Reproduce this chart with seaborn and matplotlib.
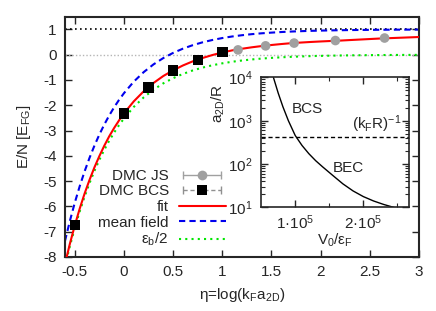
import numpy as np
import pandas as pd
import seaborn as sns
import matplotlib.pyplot as plt
from matplotlib.lines import Line2D
from matplotlib.legend_handler import HandlerLine2D
from matplotlib.ticker import LogLocator, NullFormatter

# --- style ---
sns.set_style("ticks")
plt.rcParams['font.family'] = ['Liberation Sans', 'DejaVu Sans']
plt.rcParams['mathtext.fontset'] = 'custom'
plt.rcParams['mathtext.rm'] = 'Liberation Sans'
plt.rcParams['mathtext.it'] = 'Liberation Sans:italic'
plt.rcParams['axes.unicode_minus'] = False
FS = 11
plt.rcParams['font.size'] = FS

# --- data ---
# curves: eta = log(kF a2D)
eta = [-0.6, -0.55, -0.5, -0.45, -0.4, -0.35, -0.3, -0.25, -0.2, -0.15, -0.1, -0.05,
       0.0, 0.1, 0.2, 0.3, 0.4, 0.5, 0.6, 0.7, 0.8, 0.9, 1.0, 1.1, 1.2, 1.3, 1.4, 1.5,
       1.6, 1.7, 1.8, 1.9, 2.0, 2.1, 2.2, 2.3, 2.4, 2.5, 2.6, 2.7, 2.8, 2.9, 3.0]
fit_E = [-8.28, -7.48, -6.755, -6.09, -5.49, -4.95, -4.455, -4.01, -3.60, -3.23, -2.90, -2.60,
         -2.32, -1.845, -1.45, -1.12, -0.843, -0.618, -0.425, -0.262, -0.129, -0.012, 0.089,
         0.171, 0.236, 0.293, 0.342, 0.384, 0.422, 0.456, 0.481, 0.504, 0.524, 0.542, 0.559,
         0.58, 0.60, 0.62, 0.64, 0.655, 0.67, 0.685, 0.70]
meanfield_E = [-7.373, -6.577, -5.855, -5.203, -4.613, -4.079, -3.595, -3.158, -2.762, -2.404,
               -2.080, -1.787, -1.522, -1.065, -0.691, -0.384, -0.133, 0.072, 0.240, 0.378,
               0.491, 0.583, 0.659, 0.721, 0.771, 0.813, 0.847, 0.874, 0.897, 0.916, 0.931,
               0.944, 0.954, 0.962, 0.969, 0.975, 0.979, 0.983, 0.986, 0.989, 0.991, 0.992, 0.994]
half_eb_E = [-8.373, -7.577, -6.855, -6.203, -5.613, -5.079, -4.595, -4.158, -3.762, -3.404,
             -3.080, -2.787, -2.522, -2.065, -1.691, -1.384, -1.133, -0.928, -0.760, -0.622,
             -0.509, -0.417, -0.341, -0.279, -0.229, -0.187, -0.153, -0.126, -0.103, -0.084,
             -0.069, -0.056, -0.046, -0.038, -0.031, -0.025, -0.021, -0.017, -0.014, -0.011,
             -0.009, -0.008, -0.006]

# DMC points
js_eta = [1.16, 1.44, 1.73, 2.15, 2.65]
js_E = [0.19, 0.35, 0.46, 0.56, 0.66]
bcs_eta = [-0.5, 0.0, 0.25, 0.5, 0.75, 1.0]
bcs_E = [-6.74, -2.33, -1.29, -0.63, -0.21, 0.10]

fermi_gas_level = 1.0
zero_level = 0.0

# inset: a2D/R vs V0/eF
inset_V0 = [0.68e5, 0.75e5, 0.82e5, 0.90e5, 1.00e5, 1.10e5, 1.20e5, 1.30e5, 1.40e5,
            1.55e5, 1.70e5, 1.85e5, 2.00e5, 2.15e5, 2.30e5, 2.45e5]
inset_a2d = [10000, 4365, 2089, 1000, 457, 269, 174, 120, 87, 55, 35, 24, 17.8, 14.1, 11.7, 10]
inv_kFR = 430

curves = pd.DataFrame({"eta": eta, "fit": fit_E, "mf": meanfield_E, "eb": half_eb_E})

# --- figure ---
fig = plt.figure(figsize=(4.36, 3.11), dpi=100)
ax = fig.add_axes([0.149, 0.174, 0.812, 0.772])

ax.axhline(fermi_gas_level, color="black", ls=(0, (1, 2)), lw=1.2, zorder=1)
ax.axhline(zero_level, color="#b5b5b5", ls=(0, (1, 1.5)), lw=1.0, zorder=1)

sns.lineplot(data=curves, x="eta", y="eb", ax=ax, color="#00e600", lw=1.5,
             linestyle=(0, (1, 2)), sort=False, estimator=None, zorder=2)
sns.lineplot(data=curves, x="eta", y="mf", ax=ax, color="#0000ee", lw=1.5,
             linestyle=(0, (3, 2)), sort=False, estimator=None, zorder=2)
sns.lineplot(data=curves, x="eta", y="fit", ax=ax, color="#ff0000", lw=1.5,
             sort=False, estimator=None, zorder=3)
sns.scatterplot(x=js_eta, y=js_E, ax=ax, color="#a0a0a0", s=48, marker="o",
                edgecolor="none", zorder=4)
sns.scatterplot(x=bcs_eta, y=bcs_E, ax=ax, color="black", s=56, marker="s",
                edgecolor="none", zorder=5)

ax.set_xlim(-0.6, 3)
ax.set_ylim(-8, 1.5)
ax.set_xticks([-0.5, 0, 0.5, 1, 1.5, 2, 2.5, 3])
ax.set_xticklabels(["-0.5", "0", "0.5", "1", "1.5", "2", "2.5", "3"])
ax.set_yticks(range(-8, 2))
ax.tick_params(direction="in", top=True, right=True, length=5, width=1, labelsize=FS)
ax.tick_params(axis="x", pad=6)
ax.tick_params(axis="y", pad=6)
for s in ax.spines.values():
    s.set_linewidth(1.5)
ax.set_xlabel(r"η=log(k$_\mathregular{F}$a$_\mathregular{2D}$)", fontsize=FS, labelpad=5)
ax.set_ylabel(r"E/N [E$_\mathregular{FG}$]", fontsize=FS)
ax.yaxis.set_label_coords(-0.09, 0.5)

# legend
js_caps = Line2D([], [], color="#a0a0a0", lw=1, marker="|", markersize=6)
js_mark = Line2D([], [], color="#a0a0a0", ls="none", marker="o", markersize=7, markeredgewidth=0)
bcs_caps = Line2D([], [], color="#909090", lw=1, ls=(0, (3, 2)), marker="|", markersize=6)
bcs_mark = Line2D([], [], color="black", ls="none", marker="s", markersize=7.5, markeredgewidth=0)
fit_h = Line2D([], [], color="#ff0000", lw=1.5)
mf_h = Line2D([], [], color="#0000ee", lw=1.5, ls=(0, (3, 2)))
eb_h = Line2D([], [], color="#00e600", lw=1.5, ls=(0, (1, 2)))
ax.legend([(js_caps, js_mark), (bcs_caps, bcs_mark), fit_h, mf_h, eb_h],
          ["DMC JS", "DMC BCS", "fit", "mean field", r"ε$_\mathregular{b}$/2"],
          handler_map={js_caps: HandlerLine2D(numpoints=2), bcs_caps: HandlerLine2D(numpoints=2)},
          markerfirst=False, frameon=False, loc="lower right", bbox_to_anchor=(0.455, 0.035),
          handlelength=3.1, handletextpad=0.65, labelspacing=0.1, borderpad=0,
          borderaxespad=0, fontsize=FS)

# --- inset ---
ax2 = fig.add_axes([0.599, 0.333, 0.339, 0.418])
sns.lineplot(x=inset_V0, y=inset_a2d, ax=ax2, color="black", lw=1, sort=False, estimator=None)
ax2.axhline(inv_kFR, color="black", ls=(0, (3, 2)), lw=1)
ax2.set_yscale("log")
ax2.set_ylim(10, 1e4)
ax2.set_xlim(0.5e5, 2.67e5)
ax2.set_xticks([1e5, 2e5])
ax2.set_xticklabels([r"1·10$^\mathregular{5}$", r"2·10$^\mathregular{5}$"])
ax2.set_xticks([1.5e5, 2.5e5], minor=True)
ax2.set_yticks([10, 100, 1000, 10000])
ax2.set_yticklabels([r"10$^\mathregular{1}$", r"10$^\mathregular{2}$",
                     r"10$^\mathregular{3}$", r"10$^\mathregular{4}$"])
ax2.yaxis.set_minor_locator(LogLocator(subs=np.arange(2, 10)))
ax2.yaxis.set_minor_formatter(NullFormatter())
ax2.tick_params(which="both", direction="in", top=True, right=True, labelsize=FS)
ax2.tick_params(which="major", length=5, width=1)
ax2.tick_params(which="minor", length=3, width=0.8)
ax2.tick_params(axis="x", pad=4)
ax2.tick_params(axis="y", pad=6)
for s in ax2.spines.values():
    s.set_linewidth(1.2)
ax2.set_xlabel(r"V$_\mathregular{0}$/ε$_\mathregular{F}$", fontsize=FS, labelpad=0)
ax2.set_ylabel(r"a$_\mathregular{2D}$/R", fontsize=FS)
ax2.yaxis.set_label_coords(-0.23, 0.80)
ax2.text(0.31, 0.756, "BCS", transform=ax2.transAxes, ha="center", va="center", fontsize=FS)
ax2.text(0.588, 0.306, "BEC", transform=ax2.transAxes, ha="center", va="center", fontsize=FS)
ax2.text(0.784, 0.64, r"(k$_\mathregular{F}$R)$^\mathregular{-1}$", transform=ax2.transAxes,
         ha="center", va="center", fontsize=FS)

fig.savefig("out.png", dpi=100)
plt.close(fig)
